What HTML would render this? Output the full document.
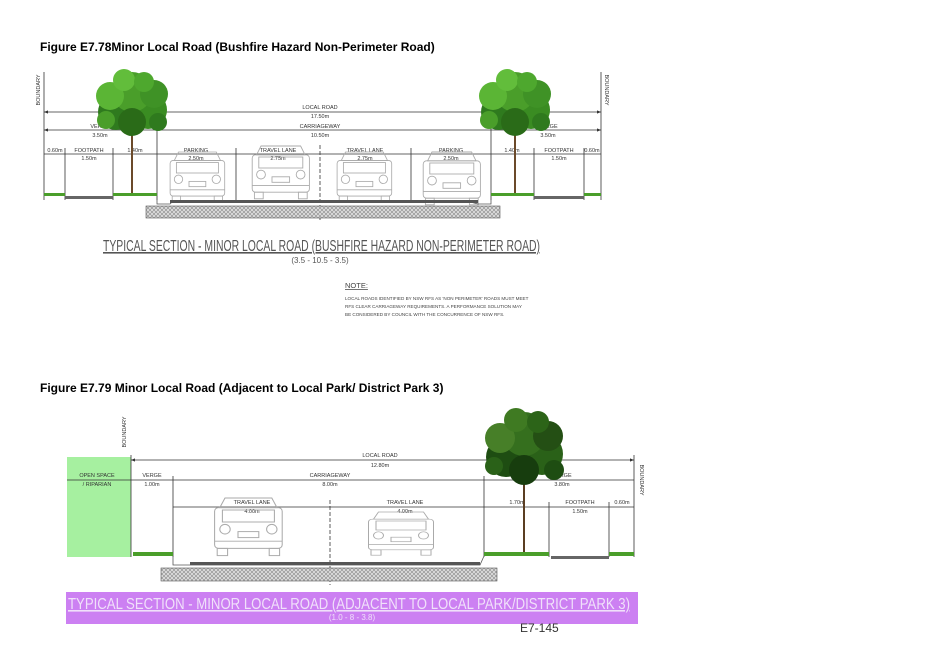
<!DOCTYPE html>
<html><head><meta charset="utf-8"><style>
html,body{margin:0;padding:0;background:#fff;}
svg{display:block;font-family:"Liberation Sans",sans-serif;}
</style></head><body>
<svg width="927" height="656" viewBox="0 0 927 656" xmlns="http://www.w3.org/2000/svg">
<defs>
<g id="car" fill="none" stroke="#aaa" stroke-width="0.8">
<path d="M6 8 L10 0 L46 0 L50 8 Z"/>
<rect x="2" y="8" width="52" height="34" rx="3"/>
<rect x="8" y="10" width="40" height="10"/>
<circle cx="10" cy="26" r="4"/><circle cx="46" cy="26" r="4"/>
<rect x="20" y="28" width="16" height="5"/>
<rect x="4" y="42" width="8" height="6"/><rect x="44" y="42" width="8" height="6"/>
<line x1="2" y1="36" x2="54" y2="36"/>
</g>
<g id="fol">
<circle cx="-16" cy="40" r="18" fill="#2f7a1e"/><circle cx="16" cy="38" r="19" fill="#3a8c22"/>
<circle cx="0" cy="20" r="20" fill="#4a9e2a"/><circle cx="-22" cy="24" r="14" fill="#5bb535"/>
<circle cx="22" cy="22" r="14" fill="#3f9226"/><circle cx="0" cy="50" r="14" fill="#2a6b18"/>
<circle cx="-8" cy="8" r="11" fill="#62bd3b"/><circle cx="12" cy="10" r="10" fill="#4ea82e"/>
<circle cx="-26" cy="48" r="9" fill="#4a9e2a"/><circle cx="26" cy="50" r="9" fill="#2f7a1e"/>
</g>
<g id="folD">
<circle cx="-18" cy="45" r="20" fill="#1e4d12"/><circle cx="18" cy="42" r="21" fill="#2a6118"/>
<circle cx="0" cy="22" r="22" fill="#356f1e"/><circle cx="-24" cy="26" r="15" fill="#477f28"/>
<circle cx="24" cy="24" r="15" fill="#244f14"/><circle cx="0" cy="58" r="15" fill="#173d0e"/>
<circle cx="-8" cy="8" r="12" fill="#3f7a22"/><circle cx="14" cy="10" r="11" fill="#2c6418"/>
<circle cx="-30" cy="54" r="9" fill="#2a6118"/><circle cx="30" cy="58" r="10" fill="#1e4d12"/>
</g>
<pattern id="hatch" width="4" height="4" patternUnits="userSpaceOnUse"><rect width="4" height="4" fill="#ddd"/><path d="M0 4L4 0M0 0L4 4" stroke="#888" stroke-width="0.6"/></pattern>
<marker id="a" markerWidth="6" markerHeight="6" refX="5" refY="3" orient="auto-start-reverse"><path d="M0 1L5 3L0 5Z" fill="#333"/></marker>
</defs>

<text x="40" y="51" font-size="12" font-weight="bold">Figure E7.78Minor Local Road (Bushfire Hazard Non-Perimeter Road)</text>

<g stroke="#333" stroke-width="0.8">
<line x1="44" y1="72" x2="44" y2="200"/><line x1="601" y1="72" x2="601" y2="200"/>
<line x1="44" y1="112" x2="601" y2="112" marker-start="url(#a)" marker-end="url(#a)"/>
<line x1="44" y1="130" x2="601" y2="130" marker-start="url(#a)" marker-end="url(#a)"/>
<line x1="44" y1="154" x2="601" y2="154"/>
<line x1="65" y1="148" x2="65" y2="200"/><line x1="113" y1="148" x2="113" y2="200"/>
<line x1="157" y1="125" x2="157" y2="200"/><line x1="236" y1="148" x2="236" y2="200"/>
<line x1="411" y1="148" x2="411" y2="200"/><line x1="491" y1="125" x2="491" y2="200"/>
<line x1="534" y1="148" x2="534" y2="200"/><line x1="584" y1="148" x2="584" y2="200"/>
<line x1="320" y1="145" x2="320" y2="220" stroke-dasharray="4,2"/>
</g>
<g font-size="5.5" fill="#333" text-anchor="middle">
<text x="40" y="90" transform="rotate(-90 40 90)">BOUNDARY</text>
<text x="605" y="90" transform="rotate(90 605 90)">BOUNDARY</text>
<text x="320" y="109">LOCAL ROAD</text><text x="320" y="118">17.50m</text>
<text x="320" y="128">CARRIAGEWAY</text><text x="320" y="137">10.50m</text>
<text x="100" y="128">VERGE</text><text x="100" y="137">3.50m</text>
<text x="548" y="128">VERGE</text><text x="548" y="137">3.50m</text>
<text x="55" y="152">0.60m</text><text x="89" y="152">FOOTPATH</text><text x="89" y="160">1.50m</text>
<text x="135" y="152">1.40m</text><text x="196" y="152">PARKING</text><text x="196" y="160">2.50m</text>
<text x="278" y="152">TRAVEL LANE</text><text x="278" y="160">2.75m</text>
<text x="365" y="152">TRAVEL LANE</text><text x="365" y="160">2.75m</text>
<text x="451" y="152">PARKING</text><text x="451" y="160">2.50m</text>
<text x="512" y="152">1.40m</text><text x="559" y="152">FOOTPATH</text><text x="559" y="160">1.50m</text>
<text x="592" y="152">0.60m</text>
</g>
<use href="#car" transform="translate(168 152) scale(1.05)"/><use href="#car" transform="translate(250 146) scale(1.1)"/>
<use href="#car" transform="translate(335 152) scale(1.05)"/><use href="#car" transform="translate(421 152) scale(1.1)"/>
<line x1="132" y1="120" x2="132" y2="196" stroke="#6b4a2a" stroke-width="2"/>
<line x1="515" y1="120" x2="515" y2="196" stroke="#6b4a2a" stroke-width="2"/>
<use href="#fol" x="132" y="72"/><use href="#fol" x="515" y="72"/>
<g>
<rect x="44" y="193" width="21" height="3" fill="#4a9e2a"/><rect x="113" y="193" width="44" height="3" fill="#4a9e2a"/>
<rect x="491" y="193" width="43" height="3" fill="#4a9e2a"/><rect x="584" y="193" width="17" height="3" fill="#4a9e2a"/>
<rect x="65" y="196" width="48" height="3" fill="#666"/><rect x="534" y="196" width="50" height="3" fill="#666"/>
<path d="M157 196 L157 204 L170 204 L172 202 L470 202 L478 204 L491 204 L491 196" fill="none" stroke="#555" stroke-width="0.8"/>
<rect x="170" y="200" width="308" height="3" fill="#555"/>
<rect x="146" y="206" width="354" height="12" fill="url(#hatch)" stroke="#555" stroke-width="0.6"/>
</g>
<text x="103" y="251" font-size="16" fill="#555" textLength="437" lengthAdjust="spacingAndGlyphs" text-decoration="underline">TYPICAL SECTION - MINOR LOCAL ROAD (BUSHFIRE HAZARD NON-PERIMETER ROAD)</text>
<text x="320" y="263" font-size="8" fill="#555" text-anchor="middle">(3.5 - 10.5 - 3.5)</text>
<text x="345" y="288" font-size="7.5" fill="#444" text-decoration="underline">NOTE:</text>
<g font-size="4.6" fill="#444">
<text x="345" y="300">LOCAL ROADS IDENTIFIED BY NSW RFS AS 'NON PERIMETER' ROADS MUST MEET</text>
<text x="345" y="308">RFS CLEAR CARRIAGEWAY REQUIREMENTS. A PERFORMANCE SOLUTION MAY</text>
<text x="345" y="316">BE CONSIDERED BY COUNCIL WITH THE CONCURRENCE OF NSW RFS.</text>
</g>

<text x="40" y="392" font-size="12" font-weight="bold">Figure E7.79 Minor Local Road (Adjacent to Local Park/ District Park 3)</text>

<rect x="67" y="457" width="64" height="100" fill="#a6f0a0"/>
<g stroke="#333" stroke-width="0.8">
<line x1="131" y1="455" x2="131" y2="557"/><line x1="634" y1="455" x2="634" y2="557"/>
<line x1="131" y1="460" x2="634" y2="460" marker-start="url(#a)" marker-end="url(#a)"/>
<line x1="67" y1="480" x2="634" y2="480"/>
<line x1="173" y1="476" x2="173" y2="557"/><line x1="484" y1="476" x2="484" y2="557"/>
<line x1="173" y1="507" x2="634" y2="507"/>
<line x1="549" y1="502" x2="549" y2="557"/>
<line x1="609" y1="502" x2="609" y2="557"/>
<line x1="330" y1="500" x2="330" y2="585" stroke-dasharray="4,2"/>
</g>
<g font-size="5.5" fill="#333" text-anchor="middle">
<text x="126" y="432" transform="rotate(-90 126 432)">BOUNDARY</text>
<text x="640" y="480" transform="rotate(90 640 480)">BOUNDARY</text>
<text x="380" y="457">LOCAL ROAD</text><text x="380" y="467">12.80m</text>
<text x="330" y="477">CARRIAGEWAY</text><text x="330" y="486">8.00m</text>
<text x="97" y="477">OPEN SPACE</text><text x="97" y="486">/ RIPARIAN</text>
<text x="152" y="477">VERGE</text><text x="152" y="486">1.00m</text>
<text x="562" y="477">VERGE</text><text x="562" y="486">3.80m</text>
<text x="252" y="504">TRAVEL LANE</text><text x="252" y="513">4.00m</text>
<text x="405" y="504">TRAVEL LANE</text><text x="405" y="513">4.00m</text>
<text x="517" y="504">1.70m</text><text x="580" y="504">FOOTPATH</text><text x="580" y="513">1.50m</text>
<text x="622" y="504">0.60m</text>
</g>
<use href="#car" transform="translate(212 498) scale(1.3 1.2)"/>
<use href="#car" transform="translate(366 512) scale(1.25 0.9)"/>
<line x1="524" y1="470" x2="524" y2="554" stroke="#5a3d22" stroke-width="2"/>
<use href="#folD" x="524" y="412"/>
<rect x="133" y="552" width="40" height="4" fill="#4a9e2a"/><rect x="484" y="552" width="65" height="4" fill="#4a9e2a"/>
<rect x="609" y="552" width="25" height="4" fill="#4a9e2a"/>
<rect x="551" y="556" width="58" height="3" fill="#666"/>
<path d="M173 556 L173 565 L190 565 L480 565 L484 556" fill="none" stroke="#555" stroke-width="0.8"/>
<rect x="190" y="562" width="290" height="3" fill="#555"/>
<rect x="161" y="568" width="336" height="13" fill="url(#hatch)" stroke="#555" stroke-width="0.6"/>
<rect x="66" y="592" width="572" height="32" fill="#cc80f2"/>
<text x="68" y="609" font-size="16" fill="#f0e0fa" textLength="562" lengthAdjust="spacingAndGlyphs" text-decoration="underline">TYPICAL SECTION - MINOR LOCAL ROAD  (ADJACENT TO LOCAL PARK/DISTRICT PARK 3)</text>
<text x="352" y="620" font-size="8" fill="#f0e0fa" text-anchor="middle">(1.0 - 8 - 3.8)</text>
<text x="520" y="632" font-size="12" fill="#333">E7-145</text>
</svg>
</body></html>
